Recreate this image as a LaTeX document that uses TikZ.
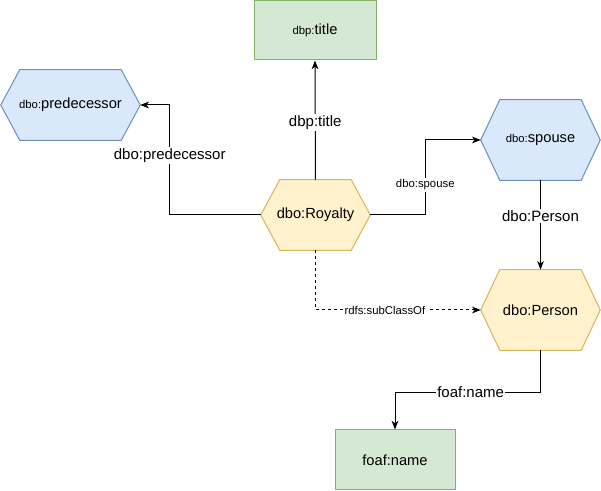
\documentclass[tikz,border=0pt]{standalone}
\usepackage{fontspec}
\setmainfont{Liberation Sans}
\usetikzlibrary{arrows.meta,calc}
\pgfdeclarelayer{bg}
\pgfsetlayers{bg,main}
\definecolor{gfill}{HTML}{D5E8D4}\definecolor{gline}{HTML}{82B366}
\definecolor{bfill}{HTML}{DAE8FC}\definecolor{bline}{HTML}{6C8EBF}
\definecolor{yfill}{HTML}{FFF2CC}\definecolor{yline}{HTML}{D6B656}
\newcommand{\pfx}[1]{{\fontsize{8.5}{10}\selectfont #1}}
\begin{document}
\begin{tikzpicture}[x=0.75pt,y=-0.75pt,
  every node/.style={font=\fontsize{11}{13}\selectfont, text=black},
  gbox/.style={draw=gline,fill=gfill,line width=0.75pt,inner sep=0pt},
  hexbox/.style={inner sep=0pt},
  arr/.style={line width=0.75pt,-{Stealth[length=6.5pt,width=5pt,inset=1.8pt]}},
  lbl/.style={fill=white,inner sep=1pt,font=\fontsize{11.25}{13}\selectfont},
  slbl/.style={fill=white,inner sep=1pt,font=\fontsize{8.5}{10}\selectfont},
  dashline/.style={dash pattern=on 2.25pt off 2.25pt}]
\useasboundingbox (0,0) rectangle (601,491);
% rectangles
\node[gbox,minimum width=91.5pt,minimum height=44.25pt] (title) at (315,30.5) {\pfx{dbp:}title};
\node[gbox,minimum width=90pt,minimum height=45pt] (foaf) at (395,460) {foaf:name};
% hexagon nodes
\node[hexbox,minimum width=104.25pt,minimum height=52.5pt] (pred) at (70.5,105) {\pfx{dbo:}predecessor};
\node[hexbox,minimum width=89.25pt,minimum height=60pt] (spouse) at (540.5,140) {\pfx{dbo:}spouse};
\node[hexbox,minimum width=81.75pt,minimum height=52.5pt] (roy) at (315.5,215) {dbo:Royalty};
\node[hexbox,minimum width=89.25pt,minimum height=60pt] (person) at (540.5,310) {dbo:Person};
\begin{pgfonlayer}{bg}
\foreach \n/\f/\d in {pred/bfill/bline,spouse/bfill/bline,roy/yfill/yline,person/yfill/yline}{
  \filldraw[fill=\f,draw=\d,line width=0.75pt]
    (\n.west) -- ([xshift=14.25pt]\n.north west) -- ([xshift=-14.25pt]\n.north east)
    -- (\n.east) -- ([xshift=-14.25pt]\n.south east) -- ([xshift=14.25pt]\n.south west) -- cycle;
}
\end{pgfonlayer}
% connectors
\draw[arr] (roy.north) -- node[lbl,pos=0.48]{dbp:title} (title.south);
\draw[arr] (roy.west) -- ++(-91,0) |- node[lbl,pos=0.27]{dbo:predecessor} (pred.east);
\draw[arr] (roy.east) -- ++(55,0) |- node[slbl,pos=0.2]{dbo:spouse} (spouse.west);
\draw[arr] (spouse.south) -- node[lbl,pos=0.4]{dbo:Person} (person.north);
\draw[arr,dashline] (roy.south) |- node[slbl,pos=0.71]{rdfs:subClassOf} (person.west);
\draw[arr] (person.south) -- ++(0,42) -| node[lbl,pos=0.24]{foaf:name} (foaf.north);
\end{tikzpicture}
\end{document}
